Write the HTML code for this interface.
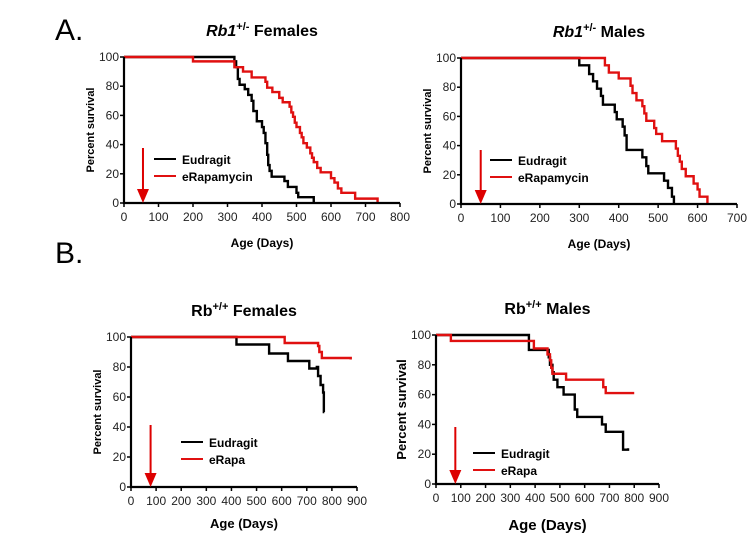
<!DOCTYPE html>
<html><head><meta charset="utf-8"><style>
body{margin:0;background:#fff;width:750px;height:543px;overflow:hidden}
svg{font-family:"Liberation Sans",Arial,sans-serif}
</style></head><body>
<svg id="s" width="750" height="543">
<text x="55" y="40" font-size="30">A.</text>
<text x="55" y="263" font-size="30">B.</text>
</svg>
<script>
// ----- data -----
const a1EudT=[0,285,320,325,330,335,350,360,370,375,385,400,405,410,415,418,422,428,465,475,500,505,550];
const a1EudS=[100,100,97,93,85,81,78,74,70,63,56,52,48,41,33,26,22,18,15,11,7,4,0];
const a1RapT=[0,200,320,345,370,410,415,430,450,460,480,485,490,495,500,510,515,520,530,540,545,550,560,570,600,610,620,630,670,735];
const a1RapS=[100,97,93,90,86,83,79,76,72,69,66,62,59,55,52,48,45,41,38,34,31,28,24,21,17,14,10,7,3,0];
const a2EudT=[0,300,325,335,345,355,360,390,395,410,415,420,460,470,475,515,525,535,540];
const a2EudS=[100,95,89,84,79,74,68,63,58,53,47,37,32,26,21,16,11,5,0];
const a2RapT=[0,365,375,400,430,435,445,460,465,470,490,495,510,545,550,555,560,570,590,600,605,625];
const a2RapS=[100,95,90,86,81,76,71,67,62,57,52,48,43,38,33,29,24,19,14,10,5,0];
const b1EudT=[0,420,550,625,710,740,745,755,765,768,770];
const b1EudS=[100,95,89,84,79,80,74,68,63,50,50];
const b1RapT=[0,612,745,750,760,875];
const b1RapS=[100,96,94,90,86,85];
const b2EudT=[0,375,455,460,470,475,490,515,560,570,670,685,755,775];
const b2EudS=[100,90,85,80,75,70,65,60,50,45,40,35,23,24];
const b2RapT=[0,60,395,450,460,465,470,525,675,685,800];
const b2RapS=[100,96,91,87,83,78,74,70,65,61,61];
const yTicks=[0,20,40,60,80,100];
const xTicksA1=[0,100,200,300,400,500,600,700,800];
const xTicksA2=[0,100,200,300,400,500,600,700];
const xTicks9=[0,100,200,300,400,500,600,700,800,900];
const arrowDay=[55,50,78,78];

const NS='http://www.w3.org/2000/svg', svg=document.getElementById('s');
function mk(tag,at,parent){const e=document.createElementNS(NS,tag);for(const k in at)e.setAttribute(k,at[k]);(parent||svg).appendChild(e);return e;}

function chart(o){
  const g=mk('g',{});
  
  
  const X=v=>o.x0+(v/o.xmax)*(o.x1-o.x0), Y=v=>o.y0+(100-v)/100*(o.y1-o.y0);
  const t=mk('text',{x:(o.x0+o.x1)/2,y:o.y0-21,'font-size':o.tfs,'font-weight':'bold','text-anchor':'middle'},g);
  
  
  t.innerHTML=o.title;
  o.series.forEach(s=>{
    let d='M'+X(s.t[0])+','+Y(s.s[0]);
    for(let i=1;i<s.t.length;i++){d+=' H'+X(s.t[i])+' V'+Y(s.s[i]);}
    const p=mk('path',{d:d,fill:'none',stroke:s.c,'stroke-width':2.4},g);
    
    
  });
  const ax=mk('path',{d:`M${o.x0},${o.y0} V${o.y1} H${o.x1}`,fill:'none',stroke:'#000','stroke-width':2.2},g);
  
  
  yTicks.forEach(v=>{
    mk('line',{x1:o.x0-4,x2:o.x0,y1:Y(v),y2:Y(v),stroke:'#000','stroke-width':1.5},g);
    const l=mk('text',{x:o.x0-5,y:Y(v)+4,'font-size':12,'text-anchor':'end',fill:'#222'},g);
    
    
    l.textContent=v;
  });
  o.xt.forEach(v=>{
    mk('line',{x1:X(v),x2:X(v),y1:o.y1,y2:o.y1+4,stroke:'#000','stroke-width':1.5},g);
    const l=mk('text',{x:X(v),y:o.y1+18,'font-size':12,'text-anchor':'middle',fill:'#222'},g);
    
    
    l.textContent=v;
  });
  const yl=mk('text',{transform:`translate(${o.x0-30},${(o.y0+o.y1)/2}) rotate(-90)`,'font-size':o.lfs,'font-weight':'bold','text-anchor':'middle'},g);
  
  
  yl.textContent='Percent survival';
  const xl=mk('text',{x:(o.x0+o.x1)/2,y:o.xly,'font-size':o.xfs,'font-weight':'bold','text-anchor':'middle'},g);
  
  
  xl.textContent='Age (Days)';
  o.series.forEach((s,i)=>{
    const ly=o.legY+i*17;
    mk('line',{x1:o.legX,x2:o.legX+22,y1:ly,y2:ly,stroke:s.c,'stroke-width':2},g);
    const lt=mk('text',{x:o.legX+28,y:ly+5,'font-size':12,'font-weight':'bold'},g);
    
    
    lt.textContent=s.label;
  });
  const ax2=X(o.arrow);
  const ar=mk('g',{},g);
  
  
  mk('line',{x1:ax2,x2:ax2,y1:o.arrowTop,y2:o.y1-12,stroke:'#d00','stroke-width':2},ar);
  mk('polygon',{points:`${ax2-6},${o.y1-14} ${ax2+6},${o.y1-14} ${ax2},${o.y1}`,fill:'#d00'},ar);
}
chart({name:'rb1-het-females-chart',title:'<tspan font-style="italic">Rb1</tspan><tspan dy="-6" font-size="11">+/-</tspan><tspan dy="6"> Females</tspan>',tfs:16,x0:124,x1:400,y0:57,y1:203,xmax:800,xt:xTicksA1,xly:247,lfs:11,xfs:12,legX:154,legY:159,arrow:arrowDay[0],arrowTop:148,
 series:[{n:'eudragit',c:'#000',t:a1EudT,s:a1EudS,label:'Eudragit'},{n:'erapamycin',c:'#e01010',t:a1RapT,s:a1RapS,label:'eRapamycin'}]});
chart({name:'rb1-het-males-chart',title:'<tspan font-style="italic">Rb1</tspan><tspan dy="-6" font-size="11">+/-</tspan><tspan dy="6"> Males</tspan>',tfs:16,x0:461,x1:737,y0:58,y1:204,xmax:700,xt:xTicksA2,xly:248,lfs:11,xfs:12,legX:490,legY:160,arrow:arrowDay[1],arrowTop:150,
 series:[{n:'eudragit',c:'#000',t:a2EudT,s:a2EudS,label:'Eudragit'},{n:'erapamycin',c:'#e01010',t:a2RapT,s:a2RapS,label:'eRapamycin'}]});
chart({name:'rb-wt-females-chart',title:'Rb<tspan dy="-6" font-size="11">+/+</tspan><tspan dy="6"> Females</tspan>',tfs:16,x0:131,x1:357,y0:337,y1:487,xmax:900,xt:xTicks9,xly:528,lfs:11,xfs:13,legX:181,legY:442,arrow:arrowDay[2],arrowTop:425,
 series:[{n:'eudragit',c:'#000',t:b1EudT,s:b1EudS,label:'Eudragit'},{n:'erapa',c:'#e01010',t:b1RapT,s:b1RapS,label:'eRapa'}]});
chart({name:'rb-wt-males-chart',title:'Rb<tspan dy="-6" font-size="11">+/+</tspan><tspan dy="6"> Males</tspan>',tfs:16,x0:436,x1:659,y0:335,y1:484,xmax:900,xt:xTicks9,xly:530,lfs:13,xfs:15,legX:473,legY:453,arrow:arrowDay[3],arrowTop:427,
 series:[{n:'eudragit',c:'#000',t:b2EudT,s:b2EudS,label:'Eudragit'},{n:'erapa',c:'#e01010',t:b2RapT,s:b2RapS,label:'eRapa'}]});
</script>
</body></html>
